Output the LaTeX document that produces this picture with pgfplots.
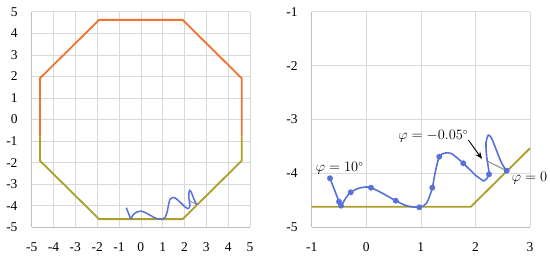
\documentclass[border=0pt]{standalone}
\usepackage{fontspec}
\setmainfont{Liberation Serif}
\usepackage{pgfplots}
\pgfplotsset{compat=1.18}
\usetikzlibrary{arrows.meta}
\definecolor{octorange}{RGB}{240,115,45}
\definecolor{octolive}{RGB}{172,158,42}
\definecolor{curveblue}{RGB}{88,112,218}
\definecolor{gridgray}{RGB}{217,217,217}
\definecolor{axisgray}{RGB}{190,190,190}
\definecolor{linkgray}{RGB}{150,160,150}

\pgfplotstableread{
x y
-0.665 -4.091
-0.585 -4.30
-0.500 -4.525
-0.463 -4.599
-0.377 -4.46
-0.286 -4.351
-0.145 -4.278
-0.011 -4.253
0.087 -4.265
0.313 -4.377
0.539 -4.506
0.740 -4.600
0.972 -4.629
1.107 -4.55
1.210 -4.265
1.26 -3.994
1.338 -3.69
1.443 -3.623
1.565 -3.635
1.778 -3.813
1.992 -4.025
2.115 -4.117
2.163 -4.135
2.249 -4.017
2.206 -3.69
2.194 -3.44
2.236 -3.29
2.298 -3.35
2.359 -3.505
2.481 -3.81
2.573 -3.95
}\curvedata

\pgfplotstableread{
x y
-0.665 -4.091
-0.500 -4.525
-0.463 -4.599
-0.286 -4.351
0.087 -4.265
0.539 -4.506
0.972 -4.629
1.210 -4.265
1.338 -3.69
1.778 -3.813
2.249 -4.017
2.573 -3.95
}\markdata

\pgfplotsset{
  myaxis/.style={
    scale only axis,
    anchor=south west,
    width=218.3pt, height=215.6pt,
    grid=major,
    major grid style={gridgray, line width=0.6pt},
    axis line style={axisgray, line width=0.7pt},
    axis x line*=bottom, axis y line*=left,
    major tick length=0pt,
    /pgf/number format/assume math mode=true,
    tick label style={font=\fontsize{13.5}{15}\selectfont},
    xticklabel style={inner sep=0pt, anchor=north, yshift=-15.5pt},
    yticklabel style={inner sep=0pt, anchor=east, xshift=-14pt},
    clip mode=individual,
  },
}

\begin{document}
\begin{tikzpicture}
\path[use as bounding box] (0,0) rectangle (550pt,259pt);

\begin{axis}[myaxis, at={(31.7pt,31.7pt)},
  xmin=-5, xmax=5, ymin=-5, ymax=5,
  xtick={-5,...,5}, ytick={-5,...,5}]
\addplot[octorange, line width=1.8pt] coordinates {
(-4.62,-0.8) (-4.62,1.914) (-1.914,4.62) (1.914,4.62) (4.62,1.914) (4.62,-0.8)};
\addplot[octolive, line width=1.8pt] coordinates {
(-4.62,-0.8) (-4.62,-1.914) (-1.914,-4.62) (1.914,-4.62) (4.62,-1.914) (4.62,-0.8)};
\addplot[linkgray, line width=1pt] coordinates {(2.21,-3.77) (2.573,-3.95)};
\addplot[curveblue, line width=1.5pt, smooth] table[x=x,y=y] {\curvedata};
\end{axis}

\begin{axis}[myaxis, at={(311.7pt,31.7pt)},
  xmin=-1, xmax=3, ymin=-5, ymax=-1,
  xtick={-1,...,3}, ytick={-5,...,-1}]
\addplot[octolive, line width=1.8pt] coordinates {
(-1,-4.62) (1.914,-4.62) (3,-3.534)};
\addplot[linkgray, line width=1.3pt] coordinates {(2.21,-3.77) (2.573,-3.95)};
\addplot[curveblue, line width=1.6pt, smooth] table[x=x,y=y] {\curvedata};
\addplot[only marks, mark=*, mark size=2.7pt, curveblue] table[x=x,y=y] {\markdata};
\node[font=\fontsize{13.5}{15}\selectfont] at (axis cs:-0.487,-3.90) {$\varphi = 10^\circ$};
\node[font=\fontsize{13.5}{15}\selectfont] at (axis cs:1.228,-3.31) {$\varphi = -0.05^\circ$};
\node[font=\fontsize{13.5}{15}\selectfont] at (axis cs:2.99,-4.09) {$\varphi = 0$};
\draw[-{Stealth[length=7pt,width=5.5pt]}, line width=0.9pt, black] (axis cs:1.87,-3.38) -- (axis cs:2.12,-3.73);
\end{axis}
\end{tikzpicture}
\end{document}
